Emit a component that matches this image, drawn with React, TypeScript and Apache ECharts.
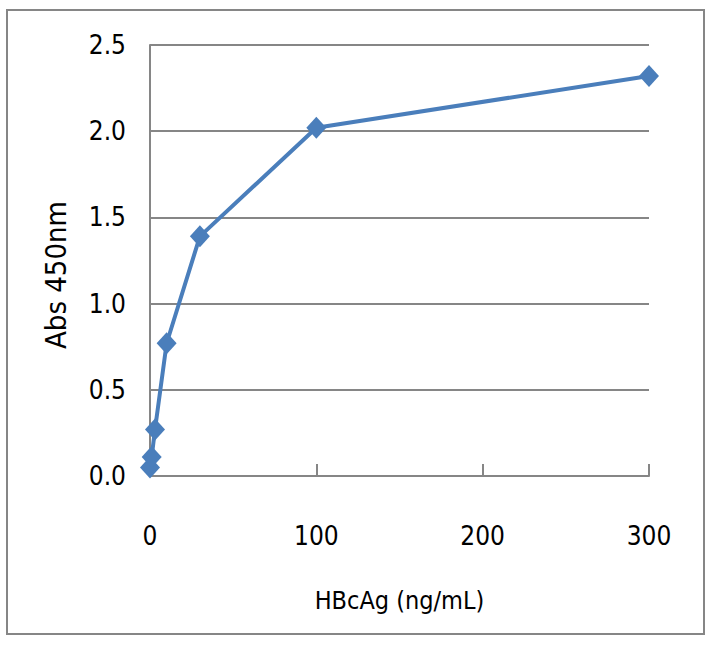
import { useEffect, useRef } from "react";
import * as echarts from "echarts";

const concentrations = [0, 1, 3, 10, 30, 100, 300];
const absorbance = [0.05, 0.11, 0.27, 0.77, 1.39, 2.02, 2.32];
const xTicks = [0, 100, 200, 300];
const yTicks = [0, 0.5, 1, 1.5, 2, 2.5];

const FONT = '"Liberation Sans Narrow", "DejaVu Sans Condensed", "Noto Sans", sans-serif';
const GRAY = "#868686";
const BLUE = "#4a7ebb";

export default function App(): JSX.Element {
  const ref = useRef<HTMLDivElement | null>(null);

  useEffect(() => {
    const el = ref.current;
    if (!el) return;
    const chart = echarts.init(el, undefined, { renderer: "svg" });
    chart.setOption({
      animation: false,
      backgroundColor: "#ffffff",
      grid: { left: 150, right: 67, top: 45, bottom: 169 },
      graphic: [
        {
          type: "rect",
          shape: { x: 7, y: 10, width: 697, height: 624 },
          style: { fill: "none", stroke: GRAY, lineWidth: 2 },
          silent: true,
        },
        // y-axis title, drawn by hand so its centre matches
        {
          type: "text",
          x: 56,
          y: 275,
          rotation: Math.PI / 2,
          style: {
            text: "Abs 450nm",
            fontFamily: FONT,
            fontSize: 29,
            fill: "#000",
            align: "center",
            verticalAlign: "middle",
          },
          silent: true,
        },
      ],
      xAxis: {
        type: "value",
        min: xTicks[0],
        max: xTicks[xTicks.length - 1],
        interval: 100,
        name: "HBcAg (ng/mL)",
        nameLocation: "middle",
        nameGap: 112,
        nameTextStyle: { fontFamily: FONT, fontSize: 25, color: "#000" },
        axisLine: { show: true, lineStyle: { color: GRAY, width: 2 } },
        axisTick: { show: true, inside: true, length: 12, lineStyle: { color: GRAY, width: 2 } },
        axisLabel: { margin: 47, fontFamily: FONT, fontSize: 26, color: "#000" },
        splitLine: { show: false },
      },
      yAxis: {
        type: "value",
        min: yTicks[0],
        max: yTicks[yTicks.length - 1],
        interval: 0.5,
        axisLine: { show: true, lineStyle: { color: GRAY, width: 2 } },
        axisTick: { show: false },
        axisLabel: {
          margin: 24,
          fontFamily: FONT,
          fontSize: 26,
          color: "#000",
          formatter: (v: number) => v.toFixed(1),
        },
        splitLine: { show: true, lineStyle: { color: GRAY, width: 2 } },
      },
      series: [
        {
          type: "line",
          data: concentrations.map((c, i) => [c, absorbance[i]]),
          symbol: "diamond",
          symbolSize: [20, 22],
          lineStyle: { color: BLUE, width: 4 },
          itemStyle: { color: BLUE },
        },
      ],
    });
    return () => chart.dispose();
  }, []);

  return (
    <div
      ref={ref}
      style={{ position: "fixed", left: 0, top: 0, width: 716, height: 645, background: "#fff" }}
    />
  );
}
